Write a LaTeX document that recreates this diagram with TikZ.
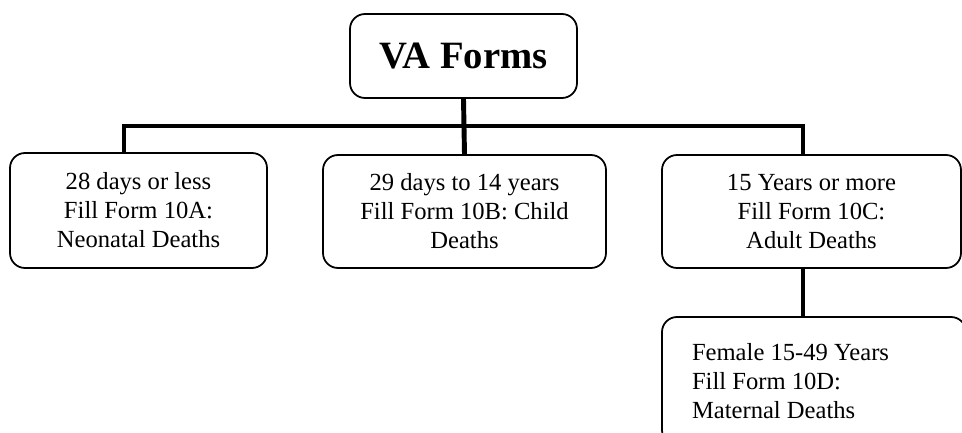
\documentclass[tikz,border=0pt]{standalone}
\usepackage{fontspec}
\setmainfont{Liberation Serif}
\usepackage{tikz}
\usetikzlibrary{calc}
\usetikzlibrary{positioning}
\tikzstyle{link} = [line width=2.8pt]
\tikzstyle{formbox} = [rectangle, rounded corners=0.3cm, line width=1pt, text centered, align=center, draw=black, font=\fontsize{14}{16.5}\selectfont, inner sep=0pt]

\begin{document}
\begin{tikzpicture}
	\useasboundingbox (0,0) rectangle (19.24,-8.66);
	\clip (0,0) rectangle (19.24,-8.66);
	\node[formbox,minimum width=4.54cm,minimum height=1.68cm,font=\fontsize{22}{25}\selectfont\bfseries](va) at (9.27,-1.12){VA Forms};
	\node[formbox,minimum width=5.14cm,minimum height=2.3cm](neo) at (2.77,-4.21){28 days or less\\Fill Form 10A:\\Neonatal Deaths};
	\node[formbox,minimum width=5.66cm,minimum height=2.26cm](child) at (9.29,-4.23){29 days to 14 years\\Fill Form 10B: Child\\Deaths};
	\node[formbox,minimum width=5.98cm,minimum height=2.26cm](adult) at (16.23,-4.23){15 Years or more\\Fill Form 10C:\\Adult Deaths};
	\node[formbox,minimum width=6.08cm,minimum height=2.56cm,align=flush left,text width=4.88cm,inner xsep=0.6cm](mat) at (16.28,-7.62){Female 15-49 Years\\Fill Form 10D:\\Maternal Deaths};
	\coordinate (bar) at (0,-2.52);
	\coordinate (neotop) at ($(neo.north)+(-0.29,0)$);
	\coordinate (adulttop) at ($(adult.north)+(-0.17,0)$);
	\draw[link] (va.south) -- (child.north);
	\draw[link] (neotop) -- (neotop |- bar) -- (adulttop |- bar) -- (adulttop);
	\draw[link] (adulttop |- adult.south) -- (adulttop |- mat.north);
\end{tikzpicture}
\end{document}
